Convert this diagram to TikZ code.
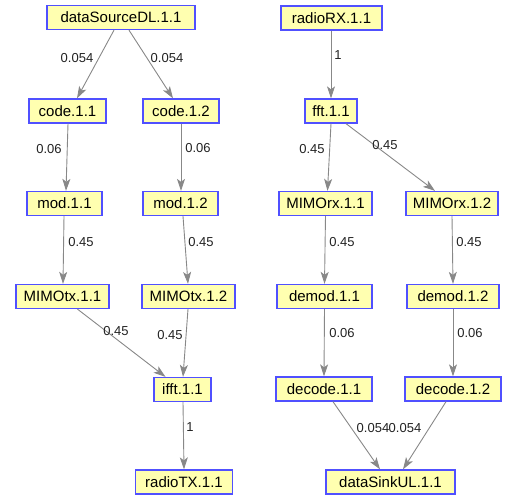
\documentclass[tikz,border=0pt]{standalone}
\usepackage{fontspec}
\setmainfont{Liberation Sans}
\usetikzlibrary{arrows.meta}
\definecolor{nfill}{RGB}{255,255,176}
\definecolor{nborder}{RGB}{80,80,255}
\definecolor{egray}{RGB}{136,136,136}
\definecolor{ltext}{RGB}{34,34,34}
\tikzset{
  box/.style={draw=nborder, fill=nfill, line width=1.3pt, minimum height=24pt,
    inner xsep=0pt, inner ysep=0pt, text=black, font=\fontsize{15}{17}\selectfont},
  edge/.style={draw=egray, line width=0.9pt,
    -{Stealth[length=12pt,width=8pt,inset=3pt]}},
  lbl/.style={text=ltext, font=\fontsize{13}{15}\selectfont, inner sep=0pt}
}
\begin{document}
\begin{tikzpicture}[x=1pt,y=-1pt]
\useasboundingbox (0,0) rectangle (506,496);
% nodes
\node[box, minimum width=148pt] (ds)   at (121,17.5) {dataSourceDL.1.1};
\node[box, minimum width=77pt]  (c11)  at (67.5,111) {code.1.1};
\node[box, minimum width=76pt]  (c12)  at (181,111) {code.1.2};
\node[box, minimum width=75pt]  (m11)  at (64.5,203.5) {mod.1.1};
\node[box, minimum width=75pt]  (m12)  at (180.5,203.5) {mod.1.2};
\node[box, minimum width=93pt]  (t11)  at (62.5,296.5) {MIMOtx.1.1};
\node[box, minimum width=93pt]  (t12)  at (188.5,296.5) {MIMOtx.1.2};
\node[box, minimum width=57pt]  (ifft) at (182.5,389.5) {ifft.1.1};
\node[box, minimum width=97pt]  (rtx)  at (184,482) {radioTX.1.1};
\node[box, minimum width=101pt] (rrx)  at (331.5,18) {radioRX.1.1};
\node[box, minimum width=52pt]  (fft)  at (331,111) {fft.1.1};
\node[box, minimum width=93pt]  (r11)  at (325.5,203.5) {MIMOrx.1.1};
\node[box, minimum width=92pt]  (r12)  at (452,203.5) {MIMOrx.1.2};
\node[box, minimum width=95pt]  (d11)  at (324.5,296.5) {demod.1.1};
\node[box, minimum width=92pt]  (d12)  at (453,296.5) {demod.1.2};
\node[box, minimum width=96pt]  (e11)  at (324,389) {decode.1.1};
\node[box, minimum width=96pt]  (e12)  at (453,389) {decode.1.2};
\node[box, minimum width=129pt] (sink) at (390.5,482) {dataSinkUL.1.1};
% edges
\draw[edge] ([xshift=-7pt]ds.south) -- ([xshift=9.5pt]c11.north) node[lbl] at (77,58) {0.054};
\draw[edge] ([xshift=8pt]ds.south) -- ([xshift=-8pt]c12.north) node[lbl] at (167,58) {0.054};
\draw[edge] ([xshift=0.5pt]c11.south) -- ([xshift=1.5pt]m11.north) node[lbl] at (49,149) {0.06};
\draw[edge] (c12.south) -- ([xshift=0.5pt]m12.north) node[lbl] at (198,148) {0.06};
\draw[edge] ([xshift=-0.5pt]m11.south) -- ([xshift=0.5pt]t11.north) node[lbl] at (81,242) {0.45};
\draw[edge] ([xshift=2.5pt]m12.south) -- ([xshift=-0.5pt]t12.north) node[lbl] at (201,242) {0.45};
\draw[edge] ([xshift=15pt]t11.south) -- ([xshift=-17pt]ifft.north) node[lbl] at (116,331) {0.45};
\draw[edge] ([xshift=-0.5pt]t12.south) -- ([xshift=0.5pt]ifft.north) node[lbl] at (170,335) {0.45};
\draw[edge] ([xshift=0.5pt]ifft.south) -- (rtx.north) node[lbl] at (190,427) {1};
\draw[edge] ([xshift=-0.5pt]rrx.south) -- (fft.north) node[lbl] at (338,55) {1};
\draw[edge] (fft.south) -- ([xshift=2pt]r11.north) node[lbl] at (312,149) {0.45};
\draw[edge] ([xshift=15pt]fft.south) -- ([xshift=-17pt]r12.north) node[lbl] at (385,145) {0.45};
\draw[edge] (r11.south) -- (d11.north) node[lbl] at (342,242) {0.45};
\draw[edge] (r12.south) -- (d12.north) node[lbl] at (469,242) {0.45};
\draw[edge] (d11.south) -- (e11.north) node[lbl] at (342,333) {0.06};
\draw[edge] (d12.south) -- (e12.north) node[lbl] at (470,333) {0.06};
\draw[edge] ([xshift=9pt]e11.south) -- ([xshift=-10.5pt]sink.north) node[lbl] at (373,428) {0.054};
\draw[edge] ([xshift=-7pt]e12.south) -- ([xshift=12.5pt]sink.north) node[lbl] at (405,428) {0.054};
\end{tikzpicture}
\end{document}
